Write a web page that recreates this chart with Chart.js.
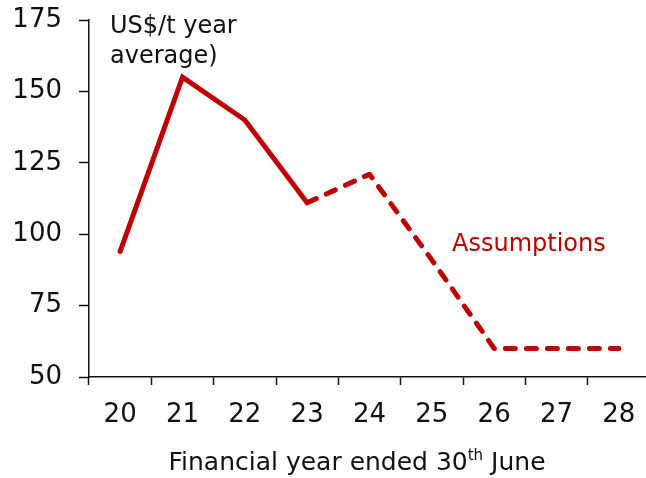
<!DOCTYPE html>
<html>
<head>
<meta charset="utf-8">
<script src="https://cdn.jsdelivr.net/npm/chart.js@4.4.1/dist/chart.umd.min.js"></script>
<style>
  html, body { margin: 0; padding: 0; background: #fff; overflow: hidden; }
  #wrap { width: 646px; height: 478px; overflow: hidden; }
</style>
</head>
<body>
<div id="wrap"><canvas id="chart" width="652" height="478"></canvas></div>
<script>
// financial years (20 = FY2020 ...)
const years = ['20', '21', '22', '23', '24', '25', '26', '27', '28'];
// US$/t year average, actual up to 23 then assumptions
const price = [94, 155, 140, 111, 121, 91, 60, 60, 60];
const firstAssumed = 3; // dashed from this point on
const yTicks = [50, 75, 100, 125, 150, 175];

const RED = '#C00000';
const FONT = '"DejaVu Sans", sans-serif';
const INK = '#111';

const textPlugin = {
    id: 'texts',
    afterDraw(chart) {
        const ctx = chart.ctx;
        ctx.save();
        ctx.textBaseline = 'alphabetic';
        ctx.textAlign = 'left';

        // unit label top left
        ctx.fillStyle = INK;
        ctx.font = '24px ' + FONT;
        ctx.fillText('US$/t year', 110, 33);
        ctx.fillText('average)', 110, 63);

        // assumptions label
        ctx.fillStyle = RED;
        ctx.fillText('Assumptions', 452, 251);

        // x axis title with superscript
        const a = 'Financial year ended 30';
        const sup = 'th';
        const b = ' June';
        ctx.fillStyle = INK;
        ctx.font = '25px ' + FONT;
        const wa = ctx.measureText(a).width;
        const wb = ctx.measureText(b).width;
        ctx.font = '15px ' + FONT;
        const ws = ctx.measureText(sup).width;
        const cx = 357;
        let x = cx - (wa + ws + wb) / 2;
        ctx.font = '25px ' + FONT;
        ctx.fillText(a, x, 470);
        x += wa;
        ctx.font = '15px ' + FONT;
        ctx.fillText(sup, x, 460);
        x += ws;
        ctx.font = '25px ' + FONT;
        ctx.fillText(b, x, 470);
        ctx.restore();
    }
};

new Chart(document.getElementById('chart'), {
    type: 'line',
    data: {
        labels: years,
        datasets: [{
            data: price,
            borderColor: RED,
            borderWidth: 5,
            borderCapStyle: 'round',
            borderJoinStyle: 'miter',
            pointRadius: 0,
            tension: 0,
            segment: {
                borderDash: c => c.p0DataIndex >= firstAssumed ? [10, 11] : undefined,
                borderJoinStyle: c => c.p0DataIndex >= firstAssumed ? 'round' : 'miter'
            }
        }]
    },
    options: {
        responsive: false,
        animation: false,
        layout: { padding: { top: 20, right: 2, left: 0, bottom: 0 } },
        plugins: {
            legend: { display: false },
            tooltip: { enabled: false }
        },
        scales: {
            x: {
                offset: true,
                grid: {
                    offset: true,
                    drawOnChartArea: false,
                    drawTicks: true,
                    tickLength: 8,
                    tickWidth: 1.5,
                    tickColor: INK
                },
                border: { display: true, color: INK, width: 1.5 },
                ticks: {
                    color: INK,
                    font: { family: FONT, size: 26 },
                    padding: 15,
                    maxRotation: 0
                },
                afterFit(scale) {
                    scale.height = 101;
                    scale.paddingLeft = 0;
                    scale.paddingRight = 0;
                }
            },
            y: {
                min: 50,
                max: 175,
                afterBuildTicks(scale) { scale.ticks = yTicks.map(v => ({ value: v })); },
                grid: {
                    drawOnChartArea: false,
                    drawTicks: true,
                    tickLength: 10,
                    tickWidth: 1.5,
                    tickColor: INK
                },
                border: { display: true, color: INK, width: 1.5 },
                ticks: {
                    color: INK,
                    font: { family: FONT, size: 26 },
                    padding: 17
                },
                afterFit(scale) {
                    scale.width = 89;
                    scale.paddingTop = 0;
                    scale.paddingBottom = 0;
                }
            }
        }
    },
    plugins: [textPlugin]
});
</script>
</body>
</html>
